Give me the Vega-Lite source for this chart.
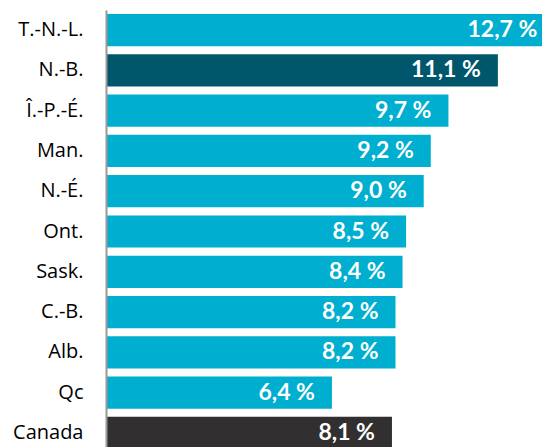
{
  "$schema": "https://vega.github.io/schema/vega-lite/v6.json",
  "autosize": {"type": "none"},
  "padding": {"left": 106, "top": 10, "right": 0, "bottom": -6},
  "width": 436,
  "height": 443,
  "background": "white",
  "config": {"view": {"stroke": null}},
  "data": {
    "values": [
      {"region": "T.-N.-L.", "value": 12.7, "label": "12,7 %", "group": "prov"},
      {"region": "N.-B.", "value": 11.1, "label": "11,1 %", "group": "nb"},
      {"region": "Î.-P.-É.", "value": 9.7, "label": "9,7 %", "group": "prov"},
      {"region": "Man.", "value": 9.2, "label": "9,2 %", "group": "prov"},
      {"region": "N.-É.", "value": 9.0, "label": "9,0 %", "group": "prov"},
      {"region": "Ont.", "value": 8.5, "label": "8,5 %", "group": "prov"},
      {"region": "Sask.", "value": 8.4, "label": "8,4 %", "group": "prov"},
      {"region": "C.-B.", "value": 8.2, "label": "8,2 %", "group": "prov"},
      {"region": "Alb.", "value": 8.2, "label": "8,2 %", "group": "prov"},
      {"region": "Qc", "value": 6.4, "label": "6,4 %", "group": "prov"},
      {"region": "Canada", "value": 8.1, "label": "8,1 %", "group": "canada"}
    ]
  },
  "encoding": {
    "y": {
      "field": "region",
      "type": "nominal",
      "sort": null,
      "scale": {"paddingInner": 0.2, "paddingOuter": 0.1},
      "axis": {
        "title": null,
        "ticks": false,
        "labelFont": "Open Sans",
        "labelFontSize": 20,
        "labelColor": "#000000",
        "labelPadding": 23,
        "domainColor": "#999999",
        "domainWidth": 2,
        "zindex": 1
      }
    },
    "x": {
      "field": "value",
      "type": "quantitative",
      "scale": {"domain": [0, 12.35], "nice": false, "zero": true},
      "axis": null
    }
  },
  "layer": [
    {
      "mark": {"type": "bar", "clip": true},
      "encoding": {
        "color": {
          "field": "group",
          "type": "nominal",
          "scale": {"domain": ["prov", "nb", "canada"], "range": ["#00AECF", "#00566A", "#312F2F"]},
          "legend": null
        }
      }
    },
    {
      "mark": {
        "type": "text",
        "align": "right",
        "baseline": "middle",
        "dx": -17,
        "font": "Lato",
        "fontSize": 23,
        "fontWeight": "bold",
        "color": "white"
      },
      "encoding": {"text": {"field": "label"}}
    }
  ]
}
